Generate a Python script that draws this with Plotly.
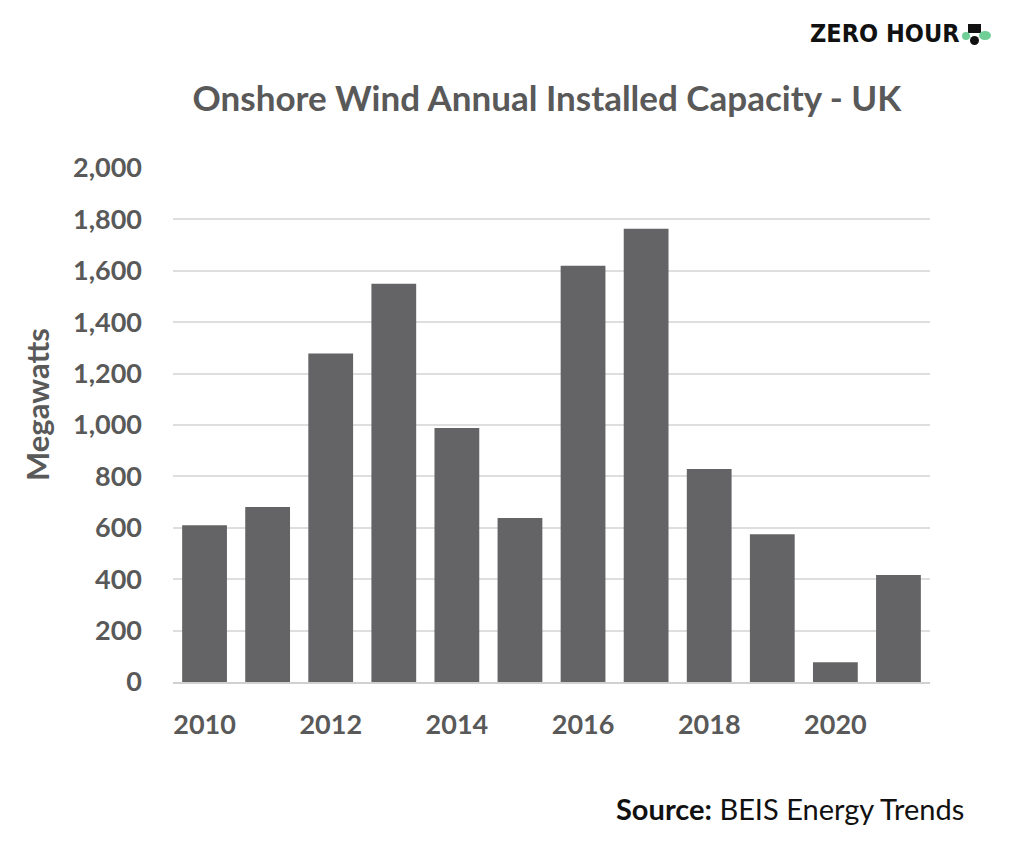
import plotly.graph_objects as go

years = [2010, 2011, 2012, 2013, 2014, 2015, 2016, 2017, 2018, 2019, 2020, 2021]
capacity_mw = [610, 681, 1278, 1550, 988, 638, 1620, 1764, 829, 575, 77, 416]
x_ticks = [2010, 2012, 2014, 2016, 2018, 2020]
y_ticks = [0, 200, 400, 600, 800, 1000, 1200, 1400, 1600, 1800, 2000]
y_tick_labels = ["0", "200", "400", "600", "800", "1,000", "1,200", "1,400", "1,600", "1,800", "2,000"]

fig = go.Figure()
fig.add_trace(go.Bar(x=years, y=capacity_mw, marker=dict(color="#646466", line=dict(width=0)),
                     width=0.71))

fig.update_layout(
    width=1011, height=841,
    margin=dict(l=173, r=81, t=168, b=159),
    plot_bgcolor="white", paper_bgcolor="white",
    showlegend=False,
    font=dict(family="Lato", color="#595959"),
    title=dict(text="<b>Onshore Wind Annual Installed Capacity - UK</b>",
               x=0.541, xanchor="center", y=0.883, yanchor="middle",
               font=dict(family="Lato", size=35, color="#595959")),
)
fig.update_xaxes(range=[2009.5, 2021.5], tickmode="array", tickvals=x_ticks,
                 ticktext=[f"<b>{t}</b>" for t in x_ticks],
                 tickfont=dict(family="Lato", size=27, color="#595959"),
                 showgrid=False, showline=True, linecolor="#d0d0d0", linewidth=2,
                 ticks="", ticklabelstandoff=18)
fig.update_yaxes(range=[0, 2000], tickmode="array", tickvals=y_ticks,
                 ticktext=[f"<b>{t}</b>" for t in y_tick_labels],
                 tickfont=dict(family="Lato", size=27, color="#595959"),
                 showgrid=True, gridcolor="#dedede", gridwidth=1.5, zeroline=False,
                 ticks="", ticklabelstandoff=30)

fig.add_annotation(text="<b>Megawatts</b>", xref="paper", yref="paper",
                   x=(37 - 173) / 757, y=(682 - 405) / 514, xanchor="center", yanchor="middle",
                   textangle=-90, showarrow=False,
                   font=dict(family="Lato", size=31, color="#595959"))
fig.add_annotation(text="<b>Source:</b> BEIS Energy Trends", xref="paper", yref="paper",
                   x=(966 - 173) / 757, y=(682 - 808) / 514, xanchor="right", yanchor="middle",
                   showarrow=False, font=dict(family="Lato", size=29, color="#111111"))
fig.add_annotation(text="<span style=\"font-stretch:condensed\">ZERO HOUR</span>",
                   xref="paper", yref="paper",
                   x=(961 - 173) / 757, y=(682 - 33) / 514, xanchor="right", yanchor="middle",
                   showarrow=False,
                   font=dict(family="DejaVu Sans Condensed, DejaVu Sans", size=25,
                             color="#111111", weight="bold"))
fig.add_shape(type="circle", xref="paper", yref="paper",
              x0=(970 - 173) / 757, x1=(979 - 173) / 757,
              y0=(682 - 45) / 514, y1=(682 - 36) / 514,
              fillcolor="#111111", line=dict(width=0))
fig.add_shape(type="rect", xref="paper", yref="paper",
              x0=(968 - 173) / 757, x1=(981 - 173) / 757,
              y0=(682 - 33) / 514, y1=(682 - 24) / 514,
              fillcolor="#111111", line=dict(width=0))
fig.add_shape(type="circle", xref="paper", yref="paper",
              x0=(979 - 173) / 757, x1=(991 - 173) / 757,
              y0=(682 - 40) / 514, y1=(682 - 31) / 514,
              fillcolor="#6fcf97", line=dict(width=0))
fig.add_shape(type="circle", xref="paper", yref="paper",
              x0=(962 - 173) / 757, x1=(970 - 173) / 757,
              y0=(682 - 40) / 514, y1=(682 - 32) / 514,
              fillcolor="#6fcf97", line=dict(width=0))

fig.write_html("out.html")
